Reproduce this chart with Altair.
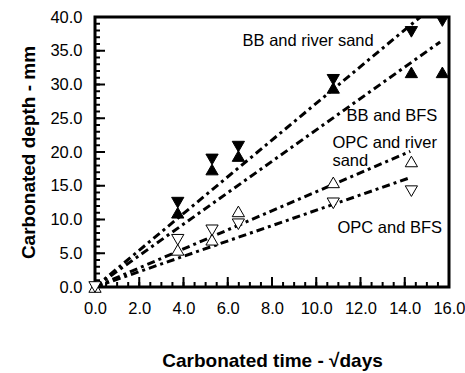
import altair as alt
import pandas as pd

# ---- data ----
t_bb = [3.74, 5.29, 6.48, 10.77, 14.3, 15.7]
bb_river = [12.5, 18.9, 20.8, 30.7, 37.8, 39.4]
bb_bfs = [11.0, 17.4, 19.4, 29.5, 31.8, 31.8]

t_opc = [0.0, 3.74, 5.29, 6.48, 10.77, 14.3]
opc_river = [0.0, 5.5, 7.0, 11.2, 15.5, 18.6]
opc_bfs = [0.0, 7.0, 8.4, 9.3, 12.4, 14.2]

fit_names = ["BB and river sand", "BB and BFS", "OPC and river sand", "OPC and BFS"]
fit_x_start = [0.0, 0.0, 0.0, 0.0]
fit_y_start = [0.0, 0.0, 0.0, 0.0]
fit_x_end = [14.7, 15.6, 14.25, 14.25]
fit_y_end = [40.0, 36.3, 20.1, 16.2]

label_text = ["BB and river sand", "BB and BFS", "OPC and river", "sand", "OPC and BFS"]
label_x = [6.67, 11.37, 10.73, 10.73, 10.96]
label_y = [36.4, 25.3, 21.4, 18.6, 8.8]

x_major = [0, 2, 4, 6, 8, 10, 12, 14, 16]
x_minor = [i * 0.5 for i in range(33)]
y_major = [0, 5, 10, 15, 20, 25, 30, 35, 40]
y_minor = list(range(41))

W, H = 354, 270
FONT = "Liberation Sans"

# ---- tables ----
pts = pd.concat([
    pd.DataFrame({"t": t_bb, "d": bb_river, "s": "BB and river sand"}),
    pd.DataFrame({"t": t_bb, "d": bb_bfs, "s": "BB and BFS"}),
    pd.DataFrame({"t": t_opc, "d": opc_river, "s": "OPC and river sand"}),
    pd.DataFrame({"t": t_opc, "d": opc_bfs, "s": "OPC and BFS"}),
], ignore_index=True)

rows = []
for n, x0, y0, x1, y1 in zip(fit_names, fit_x_start, fit_y_start, fit_x_end, fit_y_end):
    rows.append({"s": n, "t": x0, "d": y0, "o": 0})
    rows.append({"s": n, "t": x1, "d": y1, "o": 1})
fits = pd.DataFrame(rows)

labels = pd.DataFrame({"t": label_x, "d": label_y, "txt": label_text})

xs = alt.Scale(domain=[0, 16], nice=False, zero=False)
ys = alt.Scale(domain=[0, 40], nice=False, zero=False)

main_x_axis = alt.Axis(values=x_major, format=".1f", ticks=False, tickSize=0, domain=False,
                       grid=False, labelFont=FONT, labelFontSize=16.5, labelColor="black",
                       labelPadding=13, labelFlush=False, labelOverlap=False,
                       title="Carbonated time - √days", titleFont=FONT,
                       titleFontSize=19, titleFontWeight="bold", titleColor="black",
                       titleX=W / 2, titleY=73, titleAlign="center", titleBaseline="middle")
main_y_axis = alt.Axis(values=y_major, format=".1f", ticks=False, tickSize=0, domain=False,
                       grid=False, labelFont=FONT, labelFontSize=16.5, labelColor="black",
                       labelPadding=13, labelFlush=False, labelOverlap=False,
                       title="Carbonated depth - mm", titleFont=FONT,
                       titleFontSize=19, titleFontWeight="bold", titleColor="black",
                       titleAngle=270, titleX=-67, titleY=H / 2, titleAlign="center",
                       titleBaseline="middle")

fit_layer = alt.Chart(fits).mark_line(
    color="black", strokeWidth=3, strokeDash=[8, 4, 3, 4], strokeCap="butt", clip=True
).encode(
    x=alt.X("t:Q", scale=xs, axis=main_x_axis),
    y=alt.Y("d:Q", scale=ys, axis=main_y_axis),
    detail="s:N",
    order="o:Q",
)


def series(name, shape, filled, clip):
    d = pts[pts["s"] == name]
    return alt.Chart(d).mark_point(
        shape=shape, size=150, filled=True, clip=clip,
        fill="black" if filled else "white", stroke="black", strokeWidth=1, opacity=1
    ).encode(x=alt.X("t:Q", scale=xs, axis=None), y=alt.Y("d:Q", scale=ys, axis=None))


p1 = series("OPC and river sand", "triangle-up", False, False)
p2 = series("OPC and BFS", "triangle-down", False, False)
p3 = series("BB and BFS", "triangle-up", True, False)
p4 = series("BB and river sand", "triangle-down", True, True)

text_layer = alt.Chart(labels).mark_text(
    align="left", baseline="middle", font=FONT, fontSize=16.5, color="black"
).encode(x=alt.X("t:Q", scale=xs, axis=None), y=alt.Y("d:Q", scale=ys, axis=None), text="txt:N")


def x_ticks(values, length):
    return alt.Chart(pd.DataFrame({"v": values})).mark_rule(color="black", strokeWidth=2).encode(
        x=alt.X("v:Q", scale=xs, axis=None), y=alt.value(H), y2=alt.value(H - length))


def y_ticks(values, length):
    return alt.Chart(pd.DataFrame({"v": values})).mark_rule(color="black", strokeWidth=2).encode(
        y=alt.Y("v:Q", scale=ys, axis=None), x=alt.value(0), x2=alt.value(length))


chart = alt.layer(
    fit_layer,
    x_ticks(x_minor, 5), x_ticks(x_major, 10),
    y_ticks(y_minor, 5), y_ticks(y_major, 10),
    text_layer, p1, p2, p3, p4
).resolve_axis(x="independent", y="independent").properties(
    width=W, height=H,
    autosize=alt.AutoSizeParams(type="none"),
    padding={"left": 95, "top": 17, "right": 16, "bottom": 86},
    background="white",
).configure_view(stroke="black", strokeWidth=3)

chart.save("out.html", embed_options={"renderer": "svg", "actions": False})
